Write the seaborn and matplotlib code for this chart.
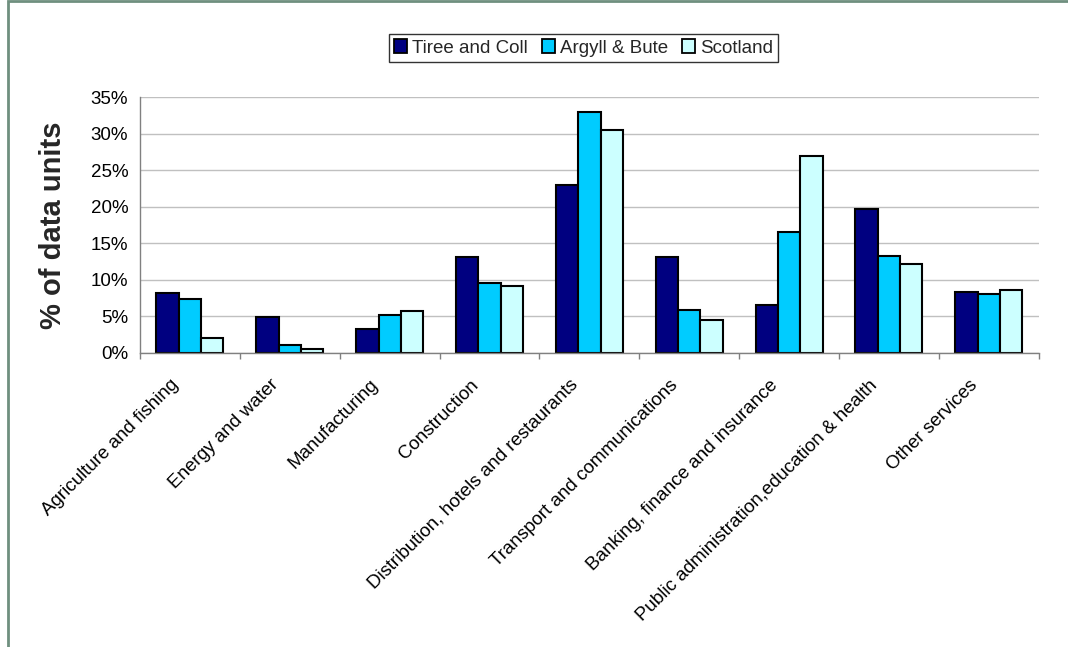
import matplotlib
matplotlib.use("Agg")
import matplotlib.pyplot as plt
import matplotlib.transforms as mtrans
from matplotlib.patches import Rectangle
from matplotlib.ticker import FuncFormatter, FixedLocator
import seaborn as sns
import pandas as pd
import numpy as np

categories = [
    "Agriculture and fishing",
    "Energy and water",
    "Manufacturing",
    "Construction",
    "Distribution, hotels and restaurants",
    "Transport and communications",
    "Banking, finance and insurance",
    "Public administration,education & health",
    "Other services",
]
series_names = ["Tiree and Coll", "Argyll & Bute", "Scotland"]
tiree_coll = [8.2, 4.9, 3.3, 13.1, 23.0, 13.1, 6.6, 19.7, 8.3]
argyll_bute = [7.3, 1.05, 5.2, 9.6, 33.0, 5.9, 16.6, 13.25, 8.1]
scotland = [2.0, 0.5, 5.75, 9.1, 30.5, 4.5, 27.0, 12.1, 8.6]
colors = ["#000080", "#00CCFF", "#CCFFFF"]
y_ticks = [0, 5, 10, 15, 20, 25, 30, 35]

rows = []
for name, vals in zip(series_names, [tiree_coll, argyll_bute, scotland]):
    for c, v in zip(categories, vals):
        rows.append({"category": c, "series": name, "value": v})
df = pd.DataFrame(rows)

sns.set_theme(style="white")
plt.rcParams["font.family"] = ["Liberation Sans", "DejaVu Sans"]

fig = plt.figure(figsize=(10.68, 6.47), dpi=100)
ax = fig.add_axes([0.1311, 0.4549, 0.8415, 0.3947])

sns.barplot(data=df, x="category", y="value", hue="series", order=categories,
            hue_order=series_names, palette=colors, width=0.67, gap=0,
            edgecolor="black", linewidth=1.5, ax=ax, saturation=1, errorbar=None)

ax.set_ylim(0, 35)
ax.set_xlim(-0.5, len(categories) - 0.5)
ax.yaxis.set_major_locator(FixedLocator(y_ticks))
ax.yaxis.set_major_formatter(FuncFormatter(lambda v, p: f"{v:.0f}%"))
ax.yaxis.grid(True, color="#C0C0C0", linewidth=1)
ax.set_axisbelow(True)
for s in ["top", "right"]:
    ax.spines[s].set_visible(False)
for s in ["left", "bottom"]:
    ax.spines[s].set_color("#808080")
    ax.spines[s].set_linewidth(1)

ax.tick_params(axis="y", which="major", direction="out", length=4.5, width=1,
               color="#808080", labelsize=13.5, labelcolor="black", pad=4)
# category labels at centers, boundary ticks as minor ticks
ax.set_xticks(np.arange(len(categories)))
ax.set_xticks(np.arange(len(categories) + 1) - 0.5, minor=True)
ax.tick_params(axis="x", which="major", length=0, labelsize=13.5,
               labelcolor="black", pad=17)
ax.tick_params(axis="x", which="minor", direction="out", length=4.5, width=1,
               color="#808080", bottom=True)
offset = mtrans.ScaledTranslation(-8 / 100, 0, fig.dpi_scale_trans)
for lab in ax.get_xticklabels():
    lab.set_rotation(45)
    lab.set_ha("right")
    lab.set_va("top")
    lab.set_transform(lab.get_transform() + offset)

ax.set_xlabel("")
ax.set_ylabel("% of data units", fontsize=21, fontweight="bold", labelpad=17)

handles, labels = ax.get_legend_handles_labels()
ax.get_legend().remove()
leg = fig.legend(handles, labels, loc="center", bbox_to_anchor=(0.5463, 0.9258),
                 ncol=3, frameon=True, fancybox=False, edgecolor="black",
                 fontsize=13.5, handlelength=0.7, handleheight=0.7,
                 handletextpad=0.25, columnspacing=0.75, borderpad=0.3,
                 borderaxespad=0)
leg.get_frame().set_linewidth(1)
for h in leg.legend_handles:
    h.set_edgecolor("black")
    h.set_linewidth(1.3)

border = Rectangle((7.5 / 1068, -0.1), 1.2, 1.1 - 1.5 / 647,
                   transform=fig.transFigure, fill=False,
                   edgecolor="#6F8F7F", linewidth=2, zorder=10)
fig.patches.append(border)

fig.savefig("out.png", dpi=100)
